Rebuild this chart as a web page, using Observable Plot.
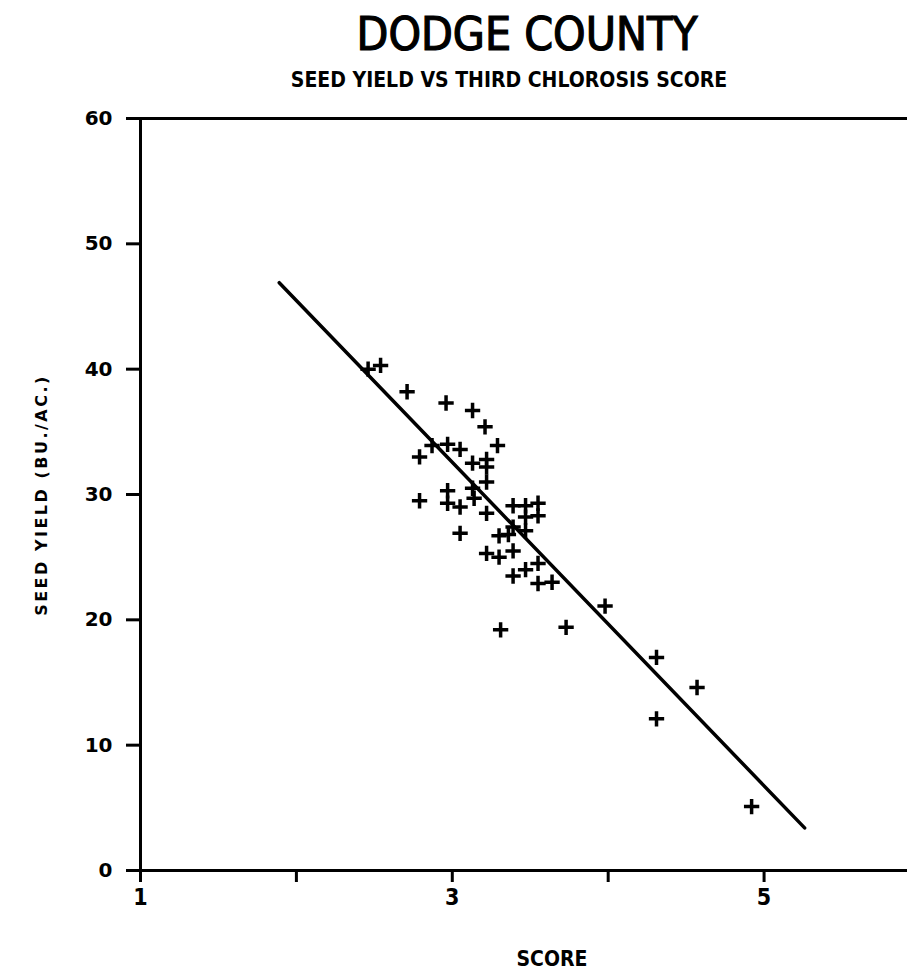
<!DOCTYPE html>
<html><head><meta charset="utf-8">
<script src="https://cdn.jsdelivr.net/npm/d3@7"></script>
<script src="https://cdn.jsdelivr.net/npm/@observablehq/plot@0.6"></script>
<style>
body{margin:0;background:#fff;}
#wrap{position:relative;width:907px;height:973px;overflow:hidden;}
.t{position:absolute;white-space:nowrap;color:#000;}
#title{left:527px;top:11px;transform:translateX(-50%);font:46px/46px "DejaVu Sans Condensed","DejaVu Sans";-webkit-text-stroke:1.2px #000;}
#subtitle{left:509px;top:70px;transform:translateX(-50%);font:bold 21px/21px "DejaVu Sans Condensed","DejaVu Sans";}
#ylabel{left:42px;top:495px;transform:translate(-50%,-50%) rotate(-90deg);font:bold 16px/16px "DejaVu Sans";letter-spacing:2.5px;}
#xlabel{left:552px;top:949px;transform:translateX(-50%);font:bold 21px/21px "DejaVu Sans Condensed","DejaVu Sans";}
svg [aria-label^="x-axis"] path, svg [aria-label^="y-axis"] path, svg [aria-label^="x-axis"] line, svg [aria-label^="y-axis"] line{stroke-width:3px;}
svg [aria-label^="x-axis"] text{font-size:23px;font-family:"DejaVu Sans Condensed","DejaVu Sans";}
</style>
</head><body>
<div id="wrap">
<div class="t" id="title">DODGE COUNTY</div>
<div class="t" id="subtitle">SEED YIELD VS THIRD CHLOROSIS SCORE</div>
<div class="t" id="ylabel">SEED YIELD (BU./AC.)</div>
<div class="t" id="xlabel">SCORE</div>
</div>
<script>
// Data
const score = [2.46,2.54,2.71,2.96,3.13,3.21,3.29,2.87,2.97,3.05,2.79,3.13,3.22,3.22,3.22,3.13,3.14,2.79,2.97,2.97,3.05,3.22,3.05,3.39,3.47,3.47,3.55,3.55,3.39,3.47,3.30,3.36,3.39,3.22,3.30,3.55,3.47,3.39,3.55,3.64,3.31,3.73,3.98,4.31,4.57,4.31,4.92];
const yieldBu = [40.0,40.3,38.2,37.3,36.7,35.4,33.9,33.9,34.0,33.6,33.0,32.5,32.8,32.2,31.0,30.5,29.7,29.5,30.3,29.3,29.0,28.5,26.9,29.1,29.1,28.2,29.3,28.3,27.4,27.1,26.7,26.8,25.5,25.3,25.0,24.5,24.0,23.5,22.9,23.0,19.2,19.4,21.1,17.0,14.6,12.1,5.1];
const fitScore = [1.89, 5.26];
const fitYield = [46.9, 3.4];
const xTicks = [1, 2, 3, 4, 5];
const xTickLabels = ["1", "", "3", "", "5"];
const yTicks = [0, 10, 20, 30, 40, 50, 60];
const xDomain = [1, 5.92];
const yDomain = [0, 60];

const points = score.map((s, i) => ({score: s, yield: yieldBu[i]}));
const fit = fitScore.map((s, i) => ({score: s, yield: fitYield[i]}));

const chart = Plot.plot({
  width: 907, height: 973,
  marginTop: 118, marginBottom: 103, marginLeft: 140, marginRight: 0,
  style: {fontFamily: "DejaVu Sans", fontSize: "20px", fontWeight: "bold", background: "transparent", color: "#000"},
  x: {domain: xDomain, ticks: xTicks, tickFormat: d => xTickLabels[xTicks.indexOf(d)], tickSize: 12, tickPadding: 6, label: null},
  y: {domain: yDomain, ticks: yTicks, tickSize: 14, tickPadding: 14, label: null},
  marks: [
    Plot.ruleY(yDomain, {stroke: "#000", strokeWidth: 3}),
    Plot.ruleX([xDomain[0]], {stroke: "#000", strokeWidth: 3}),
    Plot.line(fit, {x: "score", y: "yield", stroke: "#000", strokeWidth: 3.5}),
    Plot.dot(points, {x: "score", y: "yield", symbol: "plus", r: 5, stroke: "#000", strokeWidth: 3.5})
  ]
});
chart.style.position = "absolute";
chart.style.left = "0";
chart.style.top = "0";
document.getElementById("wrap").prepend(chart);
</script>
</body></html>
